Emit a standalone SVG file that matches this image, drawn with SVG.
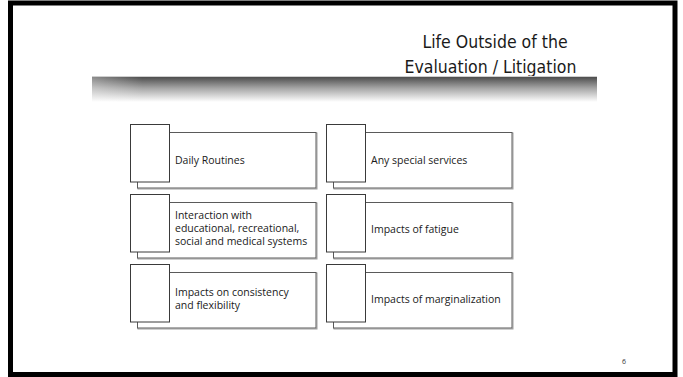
<svg xmlns="http://www.w3.org/2000/svg" width="683" height="377" viewBox="0 0 683 377">
<defs>
<linearGradient id="barGrad" x1="0" y1="0" x2="0" y2="1">
<stop offset="0" stop-color="#4d4d4d"/>
<stop offset="0.45" stop-color="#a6a6a6"/>
<stop offset="1" stop-color="#ffffff"/>
</linearGradient>
<linearGradient id="barFade" x1="0" y1="0" x2="1" y2="0">
<stop offset="0" stop-color="#fff" stop-opacity="0.35"/>
<stop offset="0.1" stop-color="#fff" stop-opacity="0"/>
<stop offset="1" stop-color="#fff" stop-opacity="0"/>
</linearGradient>
</defs>
<style>
.frame{fill:#fff;stroke:#000;stroke-width:5}
.title{font-family:"DejaVu Sans Condensed","DejaVu Sans",sans-serif;font-size:17.5px;fill:#1a1a1a;text-anchor:middle}
.shadow{fill:none;stroke:#a0a0a0;stroke-width:1}
.main{fill:#fff;stroke:#5a5a5a;stroke-width:1}
.tab{fill:#fff;stroke:#3a3a3a;stroke-width:1}
.lbl{font-family:"Open Sans","Noto Sans",sans-serif;font-size:10.5px;fill:#1a1a1a}
.pg{font-family:"Open Sans",sans-serif;font-size:7px;fill:#333}
</style>
<rect class="frame" x="10.5" y="3" width="664.5" height="371.5"/>
<text class="title" x="495" y="48">Life Outside of the</text>
<text class="title" x="490.5" y="72.5">Evaluation / Litigation</text>
<line x1="92" y1="76.5" x2="597" y2="76.5" stroke="#cfcfcf" stroke-width="1"/>
<rect x="92" y="77" width="505" height="25" fill="url(#barGrad)"/>
<rect x="92" y="77" width="505" height="25" fill="url(#barFade)"/>

<g id="node-daily">
<rect class="shadow" x="138" y="133" width="179" height="56"/>
<rect class="main" x="137.5" y="132.5" width="178.5" height="55.5"/>
<rect class="tab" x="130.5" y="124.5" width="39" height="57.5"/>
<text class="lbl" x="175" y="164">Daily Routines</text>
</g>
<g id="node-special">
<rect class="shadow" x="334" y="133" width="179" height="56"/>
<rect class="main" x="333.5" y="132.5" width="178.5" height="55.5"/>
<rect class="tab" x="326.5" y="124.5" width="39" height="57.5"/>
<text class="lbl" x="371" y="164">Any special services</text>
</g>
<g id="node-interaction">
<rect class="shadow" x="138" y="203" width="179" height="56"/>
<rect class="main" x="137.5" y="202.5" width="178.5" height="55.5"/>
<rect class="tab" x="130.5" y="194.5" width="39" height="57.5"/>
<text class="lbl" x="175" y="219">Interaction with</text>
<text class="lbl" x="175" y="232">educational, recreational,</text>
<text class="lbl" x="175" y="245">social and medical systems</text>
</g>
<g id="node-fatigue">
<rect class="shadow" x="334" y="203" width="179" height="56"/>
<rect class="main" x="333.5" y="202.5" width="178.5" height="55.5"/>
<rect class="tab" x="326.5" y="194.5" width="39" height="57.5"/>
<text class="lbl" x="371" y="233">Impacts of fatigue</text>
</g>
<g id="node-consistency">
<rect class="shadow" x="138" y="273" width="179" height="56"/>
<rect class="main" x="137.5" y="272.5" width="178.5" height="55.5"/>
<rect class="tab" x="130.5" y="264.5" width="39" height="57.5"/>
<text class="lbl" x="175" y="296">Impacts on consistency</text>
<text class="lbl" x="175" y="309">and flexibility</text>
</g>
<g id="node-marginalization">
<rect class="shadow" x="334" y="273" width="179" height="56"/>
<rect class="main" x="333.5" y="272.5" width="178.5" height="55.5"/>
<rect class="tab" x="326.5" y="264.5" width="39" height="57.5"/>
<text class="lbl" x="371" y="303">Impacts of marginalization</text>
</g>
<g id="connectors"/>
<text class="pg" x="622" y="363.5">6</text>
</svg>
